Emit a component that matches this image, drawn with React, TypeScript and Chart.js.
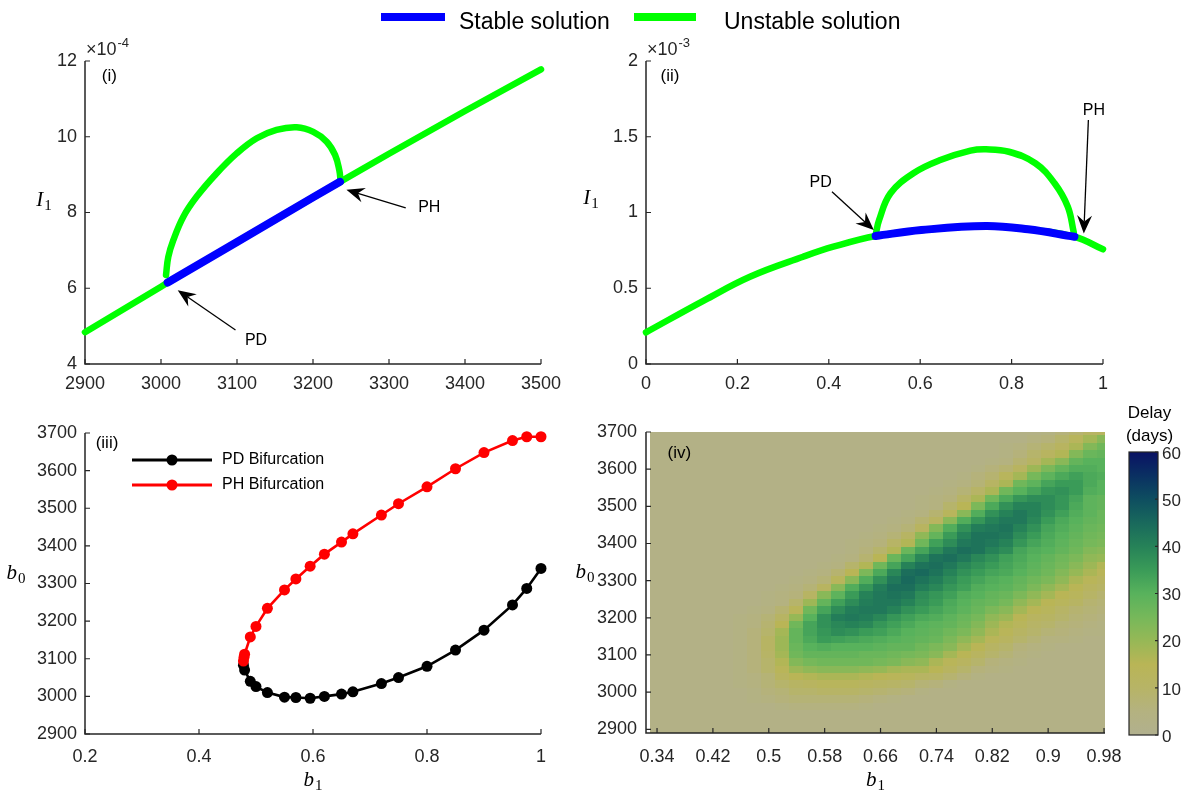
import React, { useEffect, useRef } from "react";
import { Chart, registerables } from "chart.js";

Chart.register(...registerables);

const FONT = '"Liberation Sans", Arial, Helvetica, sans-serif';
const SERIF = '"Liberation Serif", "Times New Roman", Times, serif';
const AXIS = "#262626";
const GREEN = "#00ff00";
const BLUE = "#0000ff";
const RED = "#ff0000";
const BLACK = "#000000";

/* ---------------- panel (i) ---------------- */
const p1XTicks = [2900, 3000, 3100, 3200, 3300, 3400, 3500];
const p1YTicks = [4, 6, 8, 10, 12];
const p1BaseB0 = [2900, 3000, 3008.8, 3100, 3200, 3235.5, 3300, 3400, 3500];
const p1BaseI1 = [4.84, 6.04, 6.15, 7.22, 8.4, 8.81, 9.55, 10.68, 11.78];
const p1StableB0 = [3008.8, 3100, 3200, 3235.5];
const p1StableI1 = [6.15, 7.22, 8.4, 8.81];
const p1ArcB0 = [3006.6, 3009.6, 3016.2, 3029.4, 3047, 3073, 3099.6, 3126, 3152, 3178.5, 3200.4, 3218, 3229, 3234.6, 3236.4];
const p1ArcI1 = [6.35, 6.83, 7.27, 7.89, 8.42, 9.03, 9.56, 9.96, 10.18, 10.25, 10.13, 9.87, 9.52, 9.12, 8.81];
const p1Notes = [
  { text: "PH", tx: 3353, ty: 8.12, fromX: 3322, fromY: 8.12, toX: 3244, toY: 8.6 },
  { text: "PD", tx: 3125, ty: 4.63, fromX: 3098, fromY: 4.9, toX: 3022, toY: 5.95 },
];

/* ---------------- panel (ii) ---------------- */
const p2XTicks = [0, 0.2, 0.4, 0.6, 0.8, 1];
const p2YTicks = [0, 0.5, 1, 1.5, 2];
const p2BaseB1 = [0, 0.1275, 0.2275, 0.344, 0.41, 0.5025, 0.6025, 0.744, 0.836, 0.9375, 1];
const p2BaseI1 = [0.209, 0.42, 0.576, 0.708, 0.774, 0.845, 0.884, 0.911, 0.889, 0.84, 0.757];
const p2StableB1 = [0.5025, 0.6025, 0.744, 0.836, 0.9375];
const p2StableI1 = [0.845, 0.884, 0.911, 0.889, 0.84];
const p2ArcB1 = [0.503, 0.51, 0.535, 0.585, 0.644, 0.71, 0.744, 0.794, 0.852, 0.894, 0.923, 0.936];
const p2ArcI1 = [0.86, 0.95, 1.127, 1.259, 1.346, 1.408, 1.417, 1.401, 1.325, 1.193, 1.038, 0.87];
const p2Notes = [
  { text: "PD", tx: 0.382, ty: 1.197, fromX: 0.407, fromY: 1.137, toX: 0.4985, toY: 0.884 },
  { text: "PH", tx: 0.98, ty: 1.67, fromX: 0.968, fromY: 1.61, toX: 0.958, toY: 0.862 },
];

/* ---------------- panel (iii) ---------------- */
const p3XTicks = [0.2, 0.4, 0.6, 0.8, 1];
const p3YTicks = [2900, 3000, 3100, 3200, 3300, 3400, 3500, 3600, 3700];
const pdB1 = [0.478, 0.48, 0.49, 0.5, 0.52, 0.55, 0.57, 0.595, 0.62, 0.65, 0.67, 0.72, 0.75, 0.8, 0.85, 0.9, 0.95, 0.975, 1];
const pdB0 = [3083, 3070, 3040, 3026, 3010, 2998, 2997, 2995, 3000, 3006, 3012, 3034, 3050, 3080, 3123, 3176, 3243, 3287, 3340];
const phB1 = [0.478, 0.479, 0.48, 0.49, 0.5, 0.52, 0.55, 0.57, 0.595, 0.62, 0.65, 0.67, 0.72, 0.75, 0.8, 0.85, 0.9, 0.95, 0.975, 1];
const phB0 = [3094, 3104, 3112, 3158, 3186, 3234, 3283, 3312, 3346, 3378, 3410, 3432, 3482, 3512, 3557, 3605, 3648, 3680, 3690, 3690];

/* ---------------- panel (iv) ---------------- */
const p4XTicks = [0.34, 0.42, 0.5, 0.58, 0.66, 0.74, 0.82, 0.9, 0.98];
const p4YTicks = [2900, 3000, 3100, 3200, 3300, 3400, 3500, 3600, 3700];
const heatB1 = [0.34, 0.36, 0.38, 0.4, 0.42, 0.44, 0.46, 0.48, 0.5, 0.52, 0.54, 0.56, 0.58, 0.6, 0.62, 0.64, 0.66, 0.68, 0.7, 0.72, 0.74, 0.76, 0.78, 0.8, 0.82, 0.84, 0.86, 0.88, 0.9, 0.92, 0.94, 0.96, 0.98];
const heatB0 = [3700, 3680, 3660, 3640, 3620, 3600, 3580, 3560, 3540, 3520, 3500, 3480, 3460, 3440, 3420, 3400, 3380, 3360, 3340, 3320, 3300, 3280, 3260, 3240, 3220, 3200, 3180, 3160, 3140, 3120, 3100, 3080, 3060, 3040, 3020, 3000, 2980, 2960, 2940, 2920, 2900];
// delay (days), one row per heatB0 value, one column per heatB1 value
const delayDays = [
  [3,3,3,3,3,3,3,3,3,3, 3,3,3,3,3,3,3,3,3,3, 3,3,3,3,3,3,3,3,4,6, 8,11,12],
  [3,3,3,3,3,3,3,3,3,3, 3,3,3,3,3,3,3,3,3,3, 3,3,3,3,3,3,3,5,6,9, 13,18,22],
  [3,3,3,3,3,3,3,3,3,3, 3,3,3,3,3,3,3,3,3,3, 3,3,3,3,3,4,5,7,9,12, 17,23,26],
  [3,3,3,3,3,3,3,3,3,3, 3,3,3,3,3,3,3,3,3,3, 3,3,3,3,3,4,6,9,12,16, 23,27,28],
  [3,3,3,3,3,3,3,3,3,3, 3,3,3,3,3,3,3,3,3,3, 3,3,3,3,4,5,8,11,18,22, 28,30,30],
  [3,3,3,3,3,3,3,3,3,3, 3,3,3,3,3,3,3,3,3,3, 3,3,3,4,6,8,12,19,24,28, 31,31,30],
  [3,3,3,3,3,3,3,3,3,3, 3,3,3,3,3,3,3,3,3,3, 3,3,4,6,8,13,18,25,29,32, 34,32,31],
  [3,3,3,3,3,3,3,3,3,3, 3,3,3,3,3,3,3,3,3,3, 3,4,5,7,11,17,26,29,33,35, 35,32,30],
  [3,3,3,3,3,3,3,3,3,3, 3,3,3,3,3,3,3,3,3,3, 4,5,7,10,17,26,30,33,36,37, 35,31,30],
  [3,3,3,3,3,3,3,3,3,3, 3,3,3,3,3,3,3,3,3,4, 5,6,10,17,26,32,36,38,38,36, 33,29,28],
  [3,3,3,3,3,3,3,3,3,3, 3,3,3,3,3,3,3,3,3,4, 5,9,15,24,32,37,40,40,38,36, 32,29,28],
  [3,3,3,3,3,3,3,3,3,3, 3,3,3,3,3,3,3,3,4,5, 8,13,22,31,37,40,42,40,37,34, 31,29,27],
  [3,3,3,3,3,3,3,3,3,3, 3,3,3,3,3,3,3,4,5,8, 12,22,31,36,40,42,42,39,35,32, 30,28,27],
  [3,3,3,3,3,3,3,3,3,3, 3,3,3,3,3,3,4,5,7,12, 23,31,37,41,42,43,40,37,33,31, 29,27,26],
  [3,3,3,3,3,3,3,3,3,3, 3,3,3,3,3,4,5,7,11,21, 28,35,40,43,43,42,38,35,32,30, 28,26,25],
  [3,3,3,3,3,3,3,3,3,3, 3,3,3,3,4,5,6,10,16,26, 34,38,42,43,42,40,36,33,31,29, 27,25,24],
  [3,3,3,3,3,3,3,3,3,3, 3,3,3,3,4,6,9,16,27,33, 38,42,44,43,40,38,33,31,30,28, 26,23,22],
  [3,3,3,3,3,3,3,3,3,3, 3,3,3,4,5,8,15,27,33,39, 43,44,42,39,37,34,32,30,28,26, 24,21,20],
  [3,3,3,3,3,3,3,3,3,3, 3,3,4,5,9,16,26,33,40,43, 44,42,39,37,35,33,31,29,27,25, 22,19,16],
  [3,3,3,3,3,3,3,3,3,3, 3,4,5,8,15,24,32,39,44,45, 43,40,37,35,33,32,30,28,26,23, 20,17,14],
  [3,3,3,3,3,3,3,3,3,3, 4,5,7,13,22,31,37,42,45,43, 41,38,35,33,31,30,28,26,24,21, 17,14,12],
  [3,3,3,3,3,3,3,3,3,4, 5,7,12,22,31,36,41,44,44,41, 39,36,34,31,30,29,27,24,21,18, 15,12,10],
  [3,3,3,3,3,3,3,3,4,5, 6,11,22,29,35,40,42,43,42,38, 36,34,31,30,28,27,24,21,18,15, 13,10,8],
  [3,3,3,3,3,3,3,3,4,5, 9,19,28,34,38,41,42,42,40,37, 35,32,30,28,27,25,21,18,15,13, 11,8,7],
  [3,3,3,3,3,3,3,4,5,8, 14,26,33,38,41,42,42,40,37,35, 33,31,29,27,24,22,18,15,13,10, 8,7,6],
  [3,3,3,3,3,3,4,5,7,11, 20,30,37,41,42,41,39,36,34,32, 31,29,27,25,21,19,15,12,11,9, 7,6,5],
  [3,3,3,3,3,3,4,5,8,15, 26,33,37,39,40,39,36,34,32,30, 29,28,26,23,19,16,13,10,9,7, 6,5,4],
  [3,3,3,3,3,3,4,6,9,18, 28,33,36,38,37,35,34,32,30,29, 28,26,24,21,17,14,11,9,7,6, 5,4,4],
  [3,3,3,3,3,3,4,6,11,19, 28,32,35,34,33,32,31,30,29,28, 27,24,21,18,14,12,9,7,5,5, 4,3,3],
  [3,3,3,3,3,3,4,6,11,19, 27,30,31,30,30,30,29,28,28,26, 24,22,18,15,11,9,6,5,4,3, 3,3,3],
  [3,3,3,3,3,3,4,6,10,18, 26,28,28,28,28,27,27,26,25,24, 22,18,15,12,9,7,5,4,3,3, 3,3,3],
  [3,3,3,3,3,3,4,6,9,16, 23,25,26,26,26,26,25,24,22,21, 17,14,12,9,6,5,4,3,3,3, 3,3,3],
  [3,3,3,3,3,3,4,6,9,14, 19,21,22,22,22,21,20,18,17,17, 15,12,9,6,5,4,3,3,3,3, 3,3,3],
  [3,3,3,3,3,3,4,5,7,12, 15,16,17,17,17,16,15,14,13,11, 10,8,6,4,3,3,3,3,3,3, 3,3,3],
  [3,3,3,3,3,3,4,5,7,9, 11,12,13,13,13,12,11,10,9,7, 6,4,3,3,3,3,3,3,3,3, 3,3,3],
  [3,3,3,3,3,3,3,4,6,7, 9,9,10,10,10,9,8,7,6,4, 3,3,3,3,3,3,3,3,3,3, 3,3,3],
  [3,3,3,3,3,3,3,4,5,6, 7,7,7,7,7,6,5,4,3,3, 3,3,3,3,3,3,3,3,3,3, 3,3,3],
  [3,3,3,3,3,3,3,3,3,4, 5,5,5,5,5,4,3,3,3,3, 3,3,3,3,3,3,3,3,3,3, 3,3,3],
  [3,3,3,3,3,3,3,3,3,3, 3,3,3,3,3,3,3,3,3,3, 3,3,3,3,3,3,3,3,3,3, 3,3,3],
  [3,3,3,3,3,3,3,3,3,3, 3,3,3,3,3,3,3,3,3,3, 3,3,3,3,3,3,3,3,3,3, 3,3,3],
  [3,3,3,3,3,3,3,3,3,3, 3,3,3,3,3,3,3,3,3,3, 3,3,3,3,3,3,3,3,3,3, 3,3,3],
];
const cbTicks = [0, 10, 20, 30, 40, 50, 60];

/* ---------------- colour map (style) ---------------- */
const CMAP: [number, number[]][] = [
  [0, [177, 176, 142]],
  [5, [180, 178, 128]],
  [10, [183, 180, 102]],
  [15, [185, 181, 86]],
  [20, [150, 184, 86]],
  [25, [118, 184, 90]],
  [30, [88, 178, 92]],
  [35, [58, 155, 88]],
  [40, [38, 130, 88]],
  [45, [25, 105, 92]],
  [50, [14, 78, 96]],
  [55, [10, 48, 98]],
  [60, [10, 18, 100]],
];
function cmap(v: number): string {
  if (v <= CMAP[0][0]) return `rgb(${CMAP[0][1].join(",")})`;
  for (let i = 1; i < CMAP.length; i++) {
    const [v1, c1] = CMAP[i];
    const [v0, c0] = CMAP[i - 1];
    if (v <= v1) {
      const t = (v - v0) / (v1 - v0);
      const c = c0.map((a, k) => Math.round(a + (c1[k] - a) * t));
      return `rgb(${c.join(",")})`;
    }
  }
  return `rgb(${CMAP[CMAP.length - 1][1].join(",")})`;
}

/* ---------------- helpers ---------------- */
const pts = (xs: number[], ys: number[]) => xs.map((x, i) => ({ x, y: ys[i] }));

function lineDs(xs: number[], ys: number[], color: string, width: number, order: number, tension: number) {
  return {
    data: pts(xs, ys),
    borderColor: color,
    backgroundColor: color,
    borderWidth: width,
    pointRadius: 0,
    order,
    clip: 14,
    tension,
    borderCapStyle: "round",
    borderJoinStyle: "round",
    fill: false,
  };
}

function baseOptions(pad: any, xr: number[], yr: number[]) {
  return {
    animation: false,
    responsive: false,
    maintainAspectRatio: false,
    devicePixelRatio: 1,
    events: [],
    layout: { padding: pad, autoPadding: false },
    plugins: { legend: { display: false }, tooltip: { enabled: false }, title: { display: false } },
    scales: {
      x: { type: "linear", min: xr[0], max: xr[1], display: false },
      y: { type: "linear", min: yr[0], max: yr[1], display: false },
    },
  };
}

function subLabel(ctx: any, main: string, sub: string, cx: number, cy: number) {
  ctx.save();
  ctx.fillStyle = "#000";
  ctx.textBaseline = "alphabetic";
  ctx.textAlign = "left";
  ctx.font = `italic 21px ${SERIF}`;
  const w1 = ctx.measureText(main).width;
  ctx.font = `15px ${SERIF}`;
  const w2 = ctx.measureText(sub).width;
  const x0 = cx - (w1 + w2 + 1) / 2;
  const base = cy + 6;
  ctx.font = `italic 21px ${SERIF}`;
  ctx.fillText(main, x0, base);
  ctx.font = `15px ${SERIF}`;
  ctx.fillText(sub, x0 + w1 + 1, base + 4);
  ctx.restore();
}

function arrow(ctx: any, x1: number, y1: number, x2: number, y2: number) {
  const dx = x2 - x1, dy = y2 - y1;
  const len = Math.hypot(dx, dy);
  const ux = dx / len, uy = dy / len, nx = -uy, ny = ux;
  const L = 18, W = 7.5, N = 12;
  const bx = x2 - ux * L, by = y2 - uy * L;
  const kx = x2 - ux * N, ky = y2 - uy * N;
  ctx.save();
  ctx.strokeStyle = "#000";
  ctx.lineWidth = 1.3;
  ctx.beginPath();
  ctx.moveTo(x1, y1);
  ctx.lineTo(kx, ky);
  ctx.stroke();
  ctx.fillStyle = "#000";
  ctx.beginPath();
  ctx.moveTo(x2, y2);
  ctx.lineTo(bx + nx * W, by + ny * W);
  ctx.lineTo(kx, ky);
  ctx.lineTo(bx - nx * W, by - ny * W);
  ctx.closePath();
  ctx.fill();
  ctx.restore();
}

type AxCfg = {
  id: string;
  xTicks: number[];
  yTicks: number[];
  xTickGap: number;
  yTickGap: number;
  xTitle: string[];
  xTitleGap: number;
  yTitle: string[];
  yTitleDx: number;
  yTitleDy: number;
  exponent?: string;
  panel: string;
  panelAt: number[];
};

function axesPlugin(c: AxCfg) {
  return {
    id: "axes_" + c.id,
    beforeDatasetsDraw(chart: any) {
      const { ctx, chartArea: a, scales } = chart;
      const xs = scales.x, ys = scales.y;
      ctx.save();
      ctx.strokeStyle = AXIS;
      ctx.lineWidth = 1.5;
      ctx.beginPath();
      ctx.moveTo(a.left, a.top);
      ctx.lineTo(a.left, a.bottom);
      ctx.lineTo(a.right, a.bottom);
      ctx.stroke();
      ctx.lineWidth = 1.2;
      ctx.beginPath();
      c.xTicks.forEach((v) => {
        const px = xs.getPixelForValue(v);
        ctx.moveTo(px, a.bottom);
        ctx.lineTo(px, a.bottom - 5);
      });
      c.yTicks.forEach((v) => {
        const py = ys.getPixelForValue(v);
        ctx.moveTo(a.left, py);
        ctx.lineTo(a.left + 5, py);
      });
      ctx.stroke();
      ctx.fillStyle = AXIS;
      ctx.font = `18px ${FONT}`;
      ctx.textBaseline = "middle";
      ctx.textAlign = "center";
      c.xTicks.forEach((v) => ctx.fillText(String(v), xs.getPixelForValue(v), a.bottom + c.xTickGap));
      ctx.textAlign = "right";
      c.yTicks.forEach((v) => ctx.fillText(String(v), a.left - c.yTickGap, ys.getPixelForValue(v)));
      if (c.exponent) {
        ctx.textAlign = "left";
        ctx.font = `18px ${FONT}`;
        ctx.fillText("\u00d710", a.left + 1, a.top - 11);
        const w = ctx.measureText("\u00d710").width;
        ctx.font = `13px ${FONT}`;
        ctx.fillText(c.exponent, a.left + 2 + w, a.top - 18);
      }
      ctx.restore();
      subLabel(ctx, c.xTitle[0], c.xTitle[1], (a.left + a.right) / 2, a.bottom + c.xTitleGap);
      subLabel(ctx, c.yTitle[0], c.yTitle[1], a.left + c.yTitleDx, a.top + c.yTitleDy);
    },
    afterDatasetsDraw(chart: any) {
      const { ctx, scales } = chart;
      ctx.save();
      ctx.fillStyle = "#000";
      ctx.font = `17px ${FONT}`;
      ctx.textAlign = "center";
      ctx.textBaseline = "middle";
      ctx.fillText(c.panel, scales.x.getPixelForValue(c.panelAt[0]), scales.y.getPixelForValue(c.panelAt[1]));
      ctx.restore();
    },
  };
}

function notesPlugin(id: string, notes: any[]) {
  return {
    id: "notes_" + id,
    afterDatasetsDraw(chart: any) {
      const { ctx, scales } = chart;
      const X = (v: number) => scales.x.getPixelForValue(v);
      const Y = (v: number) => scales.y.getPixelForValue(v);
      notes.forEach((n) => {
        arrow(ctx, X(n.fromX), Y(n.fromY), X(n.toX), Y(n.toY));
        ctx.save();
        ctx.fillStyle = "#000";
        ctx.font = `16px ${FONT}`;
        ctx.textAlign = "center";
        ctx.textBaseline = "middle";
        ctx.fillText(n.text, X(n.tx), Y(n.ty));
        ctx.restore();
      });
    },
  };
}

/* ---------------- chart factories ---------------- */
function makeP1() {
  return {
    type: "line",
    data: {
      datasets: [
        lineDs(p1StableB0, p1StableI1, BLUE, 8, 0, 0),
        lineDs(p1ArcB0, p1ArcI1, GREEN, 6.5, 1, 0.4),
        lineDs(p1BaseB0, p1BaseI1, GREEN, 6.5, 2, 0),
      ],
    },
    options: baseOptions({ left: 85, right: 49, top: 61, bottom: 36 }, [2900, 3500], [4, 12]),
    plugins: [
      axesPlugin({
        id: "p1", xTicks: p1XTicks, yTicks: p1YTicks, xTickGap: 20, yTickGap: 8,
        xTitle: ["b", "0"], xTitleGap: 46, yTitle: ["I", "1"], yTitleDx: -41, yTitleDy: 139,
        exponent: "-4", panel: "(i)", panelAt: [2932, 11.59],
      }),
      notesPlugin("p1", p1Notes),
    ],
  };
}

function makeP2() {
  return {
    type: "line",
    data: {
      datasets: [
        lineDs(p2StableB1, p2StableI1, BLUE, 8, 0, 0.4),
        lineDs(p2ArcB1, p2ArcI1, GREEN, 6.5, 1, 0.4),
        lineDs(p2BaseB1, p2BaseI1, GREEN, 6.5, 2, 0.4),
      ],
    },
    options: baseOptions({ left: 86, right: 84, top: 61, bottom: 36 }, [0, 1], [0, 2]),
    plugins: [
      axesPlugin({
        id: "p2", xTicks: p2XTicks, yTicks: p2YTicks, xTickGap: 20, yTickGap: 8,
        xTitle: ["b", "1"], xTitleGap: 46, yTitle: ["I", "1"], yTitleDx: -55, yTitleDy: 137,
        exponent: "-3", panel: "(ii)", panelAt: [0.0525, 1.9],
      }),
      notesPlugin("p2", p2Notes),
    ],
  };
}

function makeP3() {
  const ds = (xs: number[], ys: number[], color: string, order: number) => ({
    data: pts(xs, ys),
    borderColor: color,
    backgroundColor: color,
    borderWidth: 2.6,
    pointRadius: 5.5,
    pointBorderWidth: 0,
    pointBackgroundColor: color,
    pointStyle: "circle",
    order,
    clip: 14,
    tension: 0,
    fill: false,
  });
  const legend = {
    id: "p3legend",
    afterDatasetsDraw(chart: any) {
      const { ctx, chartArea: a } = chart;
      const rows = [
        ["PD Bifurcation", BLACK],
        ["PH Bifurcation", RED],
      ];
      rows.forEach(([label, color], i) => {
        const y = a.top + 27 + i * 25;
        ctx.save();
        ctx.strokeStyle = color;
        ctx.lineWidth = 3;
        ctx.beginPath();
        ctx.moveTo(a.left + 47, y);
        ctx.lineTo(a.left + 127, y);
        ctx.stroke();
        ctx.fillStyle = color;
        ctx.beginPath();
        ctx.arc(a.left + 87, y, 5.5, 0, Math.PI * 2);
        ctx.fill();
        ctx.fillStyle = "#000";
        ctx.font = `16px ${FONT}`;
        ctx.textAlign = "left";
        ctx.textBaseline = "middle";
        ctx.fillText(label, a.left + 137, y);
        ctx.restore();
      });
    },
  };
  return {
    type: "line",
    data: { datasets: [ds(phB1, phB0, RED, 0), ds(pdB1, pdB0, BLACK, 1)] },
    options: baseOptions({ left: 85, right: 59, top: 38, bottom: 57 }, [0.2, 1], [2900, 3700]),
    plugins: [
      axesPlugin({
        id: "p3", xTicks: p3XTicks, yTicks: p3YTicks, xTickGap: 23, yTickGap: 8,
        xTitle: ["b", "1"], xTitleGap: 46, yTitle: ["b", "0"], yTitleDx: -69, yTitleDy: 140,
        panel: "(iii)", panelAt: [0.2386, 3672],
      }),
      legend,
    ],
  };
}

function makeP4() {
  const heat = {
    id: "heat",
    beforeDatasetsDraw(chart: any) {
      const { ctx, chartArea: a, scales } = chart;
      const xs = scales.x, ys = scales.y;
      const hx = (heatB1[1] - heatB1[0]) / 2;
      const hy = Math.abs(heatB0[1] - heatB0[0]) / 2;
      ctx.save();
      ctx.beginPath();
      ctx.rect(a.left, a.top, a.right - a.left, a.bottom - a.top);
      ctx.clip();
      delayDays.forEach((row, j) => {
        const b0 = heatB0[j];
        const yt = Math.floor(ys.getPixelForValue(b0 + hy));
        const yb = Math.ceil(ys.getPixelForValue(b0 - hy));
        row.forEach((v, k) => {
          const b1 = heatB1[k];
          const xl = Math.floor(xs.getPixelForValue(b1 - hx));
          const xr = Math.ceil(xs.getPixelForValue(b1 + hx));
          ctx.fillStyle = cmap(v);
          ctx.fillRect(xl, yt, xr - xl, yb - yt);
        });
      });
      ctx.restore();
    },
  };
  return {
    type: "scatter",
    data: { datasets: [] },
    options: baseOptions({ left: 86, right: 35, top: 37, bottom: 58 }, [0.3242, 0.9814], [2890, 3700]),
    plugins: [
      heat,
      axesPlugin({
        id: "p4", xTicks: p4XTicks, yTicks: p4YTicks, xTickGap: 24, yTickGap: 9,
        xTitle: ["b", "1"], xTitleGap: 47, yTitle: ["b", "0"], yTitleDx: -61, yTitleDy: 140,
        panel: "(iv)", panelAt: [0.372, 3642],
      }),
    ],
  };
}

function makeCb() {
  const bar = {
    id: "cbar",
    afterDraw(chart: any) {
      const { ctx, chartArea: a, scales } = chart;
      const ys = scales.y;
      const y0 = ys.getPixelForValue(0), y1 = ys.getPixelForValue(60);
      const g = ctx.createLinearGradient(0, y0, 0, y1);
      CMAP.forEach(([v]) => g.addColorStop(v / 60, cmap(v)));
      ctx.save();
      ctx.fillStyle = g;
      ctx.fillRect(a.left, y1, a.right - a.left, y0 - y1);
      ctx.strokeStyle = AXIS;
      ctx.lineWidth = 1.2;
      ctx.strokeRect(a.left, y1, a.right - a.left, y0 - y1);
      ctx.beginPath();
      cbTicks.forEach((v) => {
        const py = ys.getPixelForValue(v);
        ctx.moveTo(a.right, py);
        ctx.lineTo(a.right - 3, py);
      });
      ctx.stroke();
      ctx.fillStyle = AXIS;
      ctx.font = `17px ${FONT}`;
      ctx.textAlign = "left";
      ctx.textBaseline = "middle";
      cbTicks.forEach((v) => ctx.fillText(String(v), a.right + 4, ys.getPixelForValue(v) + 2));
      ctx.fillStyle = "#000";
      ctx.font = `17px ${FONT}`;
      ctx.textAlign = "center";
      const cx = (a.left + a.right) / 2 + 6;
      ctx.fillText("Delay", cx, a.top - 39);
      ctx.fillText("(days)", cx, a.top - 16);
      ctx.restore();
    },
  };
  return {
    type: "scatter",
    data: { datasets: [] },
    options: baseOptions({ left: 19, right: 29, top: 57, bottom: 56 }, [0, 1], [0, 60]),
    plugins: [bar],
  };
}

/* ---------------- components ---------------- */
function ChartBox(props: { left: number; top: number; width: number; height: number; make: () => any }) {
  const ref = useRef<HTMLCanvasElement | null>(null);
  useEffect(() => {
    const chart = new Chart(ref.current as any, props.make() as any);
    return () => chart.destroy();
  }, []);
  return (
    <canvas
      ref={ref}
      width={props.width}
      height={props.height}
      style={{ position: "absolute", left: props.left, top: props.top, width: props.width, height: props.height }}
    />
  );
}

function TopLegend() {
  const txt: any = { position: "absolute", top: 10, font: `23px ${FONT}`, lineHeight: "23px", color: "#000", whiteSpace: "nowrap" };
  return (
    <>
      <div style={{ position: "absolute", left: 381, top: 13, width: 64, height: 8, background: BLUE }} />
      <div style={{ ...txt, left: 459 }}>Stable solution</div>
      <div style={{ position: "absolute", left: 634, top: 13, width: 62, height: 8, background: GREEN }} />
      <div style={{ ...txt, left: 724 }}>Unstable solution</div>
    </>
  );
}

export default function App() {
  return (
    <div style={{ position: "absolute", left: 0, top: 0, width: 1187, height: 791, background: "#fff", overflow: "hidden" }}>
      <ChartBox left={0} top={0} width={590} height={400} make={makeP1} />
      <ChartBox left={560} top={0} width={627} height={400} make={makeP2} />
      <ChartBox left={0} top={395} width={600} height={396} make={makeP3} />
      <ChartBox left={560} top={395} width={580} height={396} make={makeP4} />
      <ChartBox left={1110} top={395} width={77} height={396} make={makeCb} />
      <TopLegend />
    </div>
  );
}
